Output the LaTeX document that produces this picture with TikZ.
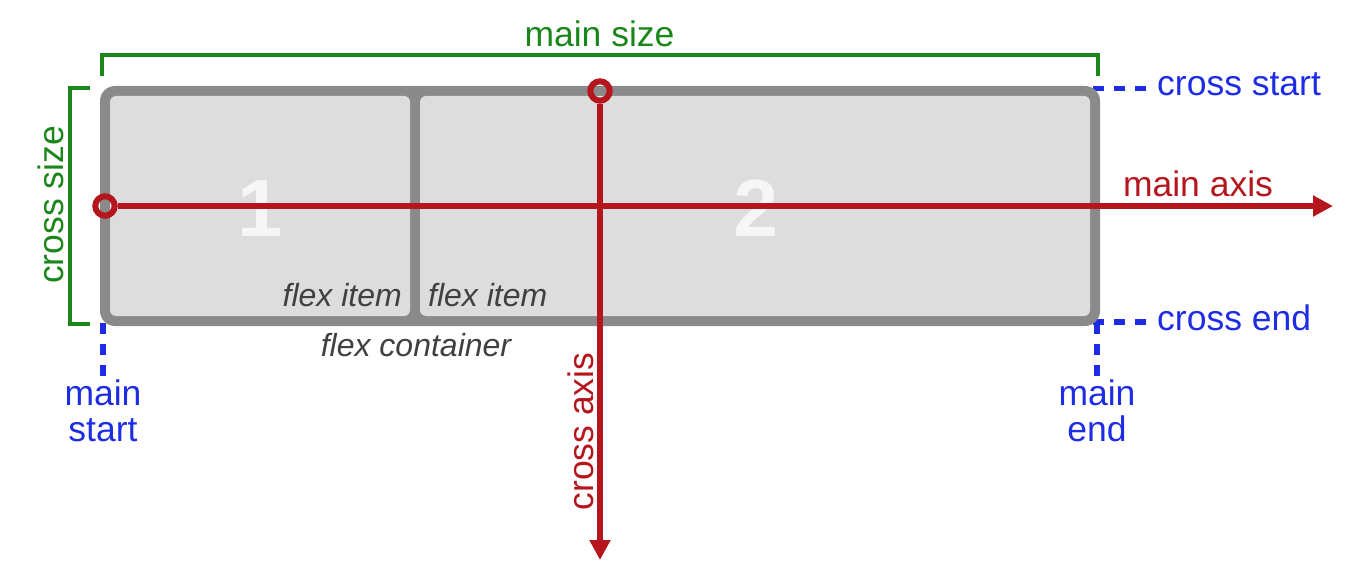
\documentclass[tikz,border=0pt]{standalone}
\usepackage{fontspec}
\setmainfont{Liberation Sans}
\usetikzlibrary{arrows.meta}
\definecolor{axisred}{RGB}{181,22,30}
\definecolor{sizegreen}{RGB}{27,135,27}
\definecolor{guideblue}{RGB}{30,45,228}
\definecolor{bordergray}{RGB}{138,138,138}
\definecolor{itemgray}{RGB}{221,221,221}
\definecolor{textgray}{RGB}{64,64,64}
\definecolor{digitwhite}{RGB}{246,246,246}
\begin{document}
\begin{tikzpicture}[x=1pt,y=-1pt,
  lbl/.style={inner sep=0pt, font=\fontsize{35.5}{35.3}\selectfont},
  redlbl/.style={lbl, text=axisred},
  greenlbl/.style={lbl, text=sizegreen},
  bluelbl/.style={lbl, text=guideblue, align=center},
  graylbl/.style={inner sep=0pt, text=textgray, font=\fontsize{32}{36}\selectfont\itshape},
  digit/.style={inner sep=0pt, text=digitwhite, font=\fontsize{81}{90}\selectfont\bfseries},
  guide/.style={draw=guideblue, line width=5.5pt, dash pattern=on 11pt off 10pt},
  bracket/.style={draw=sizegreen, line width=4pt},
  axis/.style={draw=axisred, line width=6pt, -{Triangle[length=20pt,width=20pt]}},
  origin/.style={circle, draw=axisred, line width=6pt, minimum size=19.4pt, inner sep=0pt},
  containerbox/.style={rectangle, fill=bordergray, rounded corners=15pt, minimum width=1000pt, minimum height=240pt, inner sep=0pt},
  itembox/.style={rectangle, fill=itemgray, rounded corners=6pt, minimum height=220pt, inner sep=0pt}
]
\useasboundingbox (0,0) rectangle (1356,572);

% guide coordinates
\coordinate (csA) at (1146,88.5);
\coordinate (csB) at (1080,88.5);
\coordinate (ceA) at (1146,322);
\coordinate (ceB) at (1080,322);
\coordinate (msA) at (103,376);
\coordinate (msB) at (103,300);
\coordinate (meA) at (1097,376);
\coordinate (meB) at (1097,300);
\draw[guide] (csA) -- (csB);
\draw[guide] (ceA) -- (ceB);
\draw[guide] (msA) -- (msB);
\draw[guide] (meA) -- (meB);

% container and items
\node[containerbox] (container) at (600,206) {};
\node[itembox, minimum width=300pt] (item1) at (260,206) {};
\node[itembox, minimum width=670pt] (item2) at (755,206) {};
\node[digit, anchor=base] (d1) at (260,236.5) {1};
\node[digit, anchor=base] (d2) at (756,236.5) {2};

% size brackets
\coordinate (mzA) at (102,76);
\coordinate (mzB) at (102,55.5);
\coordinate (mzC) at (1097.5,55.5);
\coordinate (mzD) at (1097.5,76);
\draw[bracket] (mzA) -- (mzB) -- (mzC) -- (mzD);
\coordinate (czA) at (90,88.5);
\coordinate (czB) at (70.3,88.5);
\coordinate (czC) at (70.3,323.7);
\coordinate (czD) at (90,323.7);
\draw[bracket] (czA) -- (czB) -- (czC) -- (czD);

% axes
\node[origin] (mainorigin) at (105,206) {};
\node[origin] (crossorigin) at (600,91) {};
\coordinate (mainend) at (1333,206);
\coordinate (crossend) at (600,560);
\draw[axis] (mainorigin) -- (mainend);
\draw[axis] (crossorigin) -- (crossend);

% labels
\node[greenlbl, anchor=base] (mainsize) at (599.5,46.7) {main size};
\node[greenlbl, anchor=base, rotate=90] (crosssize) at (63.3,205) {cross size};
\node[redlbl, anchor=base] (mainaxis) at (1198,196.7) {main axis};
\node[redlbl, anchor=base, rotate=90] (crossaxis) at (593.3,431.5) {cross axis};
\node[lbl, text=guideblue, anchor=base west] (crossstart) at (1157,96) {cross start};
\node[lbl, text=guideblue, anchor=base west] (crossendlbl) at (1157,330) {cross end};
\node[bluelbl, anchor=base] (mainstart) at (103,441) {main\\start};
\node[bluelbl, anchor=base] (mainendlbl) at (1097,441) {main\\end};
\node[graylbl, anchor=base east] (fi1) at (402,306.7) {flex item};
\node[graylbl, anchor=base west] (fi2) at (428,306.7) {flex item};
\node[graylbl, anchor=base] (fc) at (416,356.7) {flex container};
\end{tikzpicture}
\end{document}
